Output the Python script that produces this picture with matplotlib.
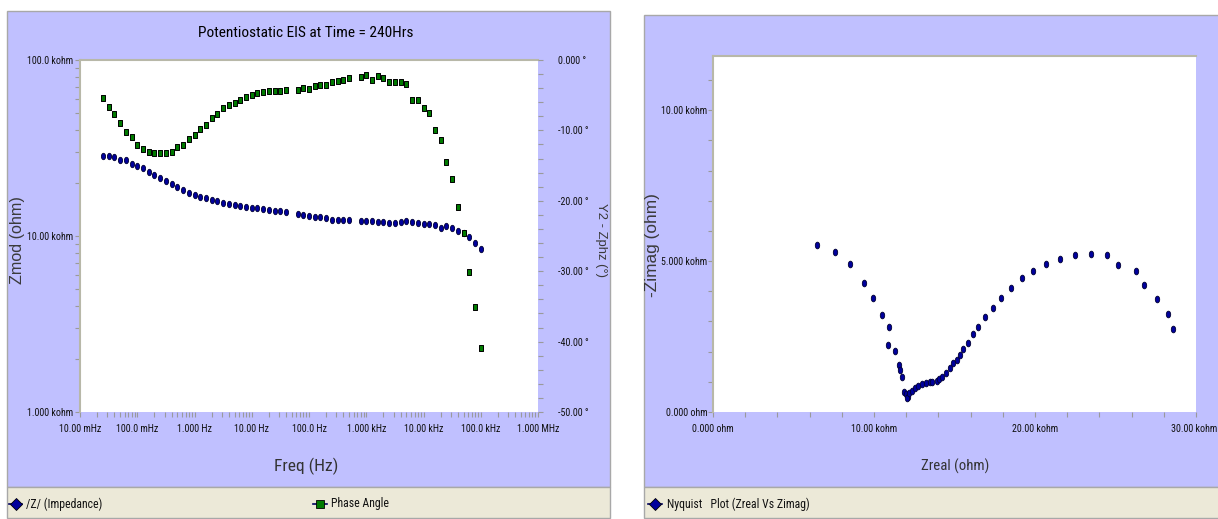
import os
import matplotlib
matplotlib.use('Agg')
import matplotlib.pyplot as plt
from matplotlib import font_manager
from matplotlib.font_manager import FontProperties
from matplotlib.path import Path
from matplotlib.patches import Rectangle
from matplotlib.lines import Line2D
from matplotlib.transforms import ScaledTranslation
from matplotlib.ticker import FixedLocator, LogLocator, NullFormatter, MultipleLocator

# ---- Bode data: frequency (Hz), |Z| (kohm), phase (deg) ----
freq_hz = [0.02512, 0.03162, 0.03981, 0.05012, 0.0631, 0.07943, 0.1, 0.1259, 0.1585, 0.1995,
           0.2512, 0.3162, 0.3981, 0.5012, 0.631, 0.7943, 1.0, 1.259, 1.585, 1.995,
           2.512, 3.162, 3.981, 5.012, 6.31, 7.943, 10.0, 12.59, 15.85, 19.95,
           25.12, 31.62, 39.81, 63.1, 79.43, 100.0, 125.9, 158.5, 199.5, 251.2,
           316.2, 398.1, 501.2, 794.3, 1000.0, 1259.0, 1585.0, 1995.0, 2512.0, 3162.0,
           3981.0, 5012.0, 6310.0, 7943.0, 10000.0, 12589.0, 15849.0, 19953.0, 25119.0, 31623.0,
           39811.0, 50119.0, 63096.0, 79433.0, 100000.0]
zmod_kohm = [28.49, 28.49, 27.99, 27.0, 27.0, 25.6, 25.0, 24.2, 23.1, 22.2,
             21.4, 20.6, 19.7, 19.05, 18.3, 17.6, 17.1, 16.7, 16.4, 16.0,
             15.8, 15.5, 15.2, 15.0, 14.8, 14.7, 14.5, 14.4, 14.2, 14.05,
             13.9, 13.8, 13.6, 13.3, 13.1, 13.05, 12.9, 12.9, 12.6, 12.4,
             12.4, 12.4, 12.4, 12.1, 12.1, 12.1, 11.96, 12.05, 11.9, 11.9,
             11.96, 12.1, 11.96, 11.8, 11.7, 11.7, 11.55, 11.06, 11.4, 11.06,
             10.67, 10.35, 9.91, 9.16, 8.44]
phase_deg = [-5.44, -6.63, -7.67, -8.90, -10.18, -10.98, -12.07, -12.69, -13.07, -13.26,
             -13.26, -13.26, -13.02, -12.41, -12.03, -11.22, -10.61, -9.75, -9.19, -8.29,
             -7.62, -6.87, -6.44, -6.06, -5.63, -5.21, -4.97, -4.73, -4.59, -4.36,
             -4.36, -4.36, -4.21, -4.21, -4.02, -4.07, -3.74, -3.55, -3.60, -3.17,
             -2.98, -2.79, -2.56, -2.37, -2.13, -2.79, -2.32, -2.56, -3.17, -3.17,
             -3.17, -3.36, -5.63, -5.63, -6.87, -7.53, -9.99, -11.41, -14.54, -16.95,
             -20.83, -24.53, -30.07, -35.04, -40.86]

# ---- Nyquist data (kohm) ----
zreal_kohm = [6.48, 7.58, 8.51, 9.38, 9.96, 10.52, 10.93, 10.85, 11.33, 11.55,
              11.61, 11.74, 11.88, 11.99, 12.09, 12.03, 12.19, 12.34, 12.55, 12.75,
              12.96, 13.21, 13.45, 13.62, 13.89, 14.05, 14.20, 14.47, 14.72, 14.93,
              15.14, 15.34, 15.55, 15.86, 16.13, 16.48, 16.89, 17.37, 17.87, 18.49,
              19.17, 19.90, 20.68, 21.55, 22.47, 23.46, 24.45, 25.18, 26.27, 26.79,
              27.60, 28.24, 28.59]
neg_zimag_kohm = [5.53, 5.29, 4.91, 4.29, 3.77, 3.20, 2.82, 2.21, 2.02, 1.56,
                  1.39, 1.17, 0.67, 0.60, 0.51, 0.45, 0.64, 0.71, 0.78, 0.86,
                  0.93, 0.97, 0.98, 1.00, 1.04, 1.10, 1.17, 1.28, 1.45, 1.61,
                  1.72, 1.89, 2.08, 2.30, 2.58, 2.82, 3.16, 3.44, 3.77, 4.10,
                  4.43, 4.68, 4.91, 5.06, 5.19, 5.24, 5.20, 4.88, 4.68, 4.21,
                  3.73, 3.25, 2.74]

freq_ticks = [0.01, 0.1, 1, 10, 100, 1e3, 1e4, 1e5, 1e6]
freq_labels = ['10.00 mHz', '100.0 mHz', '1.000 Hz', '10.00 Hz', '100.0 Hz',
               '1.000 kHz', '10.00 kHz', '100.0 kHz', '1.000 MHz']
zmod_ticks = [1, 10, 100]
zmod_labels = ['1.000 kohm', '10.00 kohm', '100.0 kohm']
phase_ticks = [0, -10, -20, -30, -40, -50]
phase_labels = ['0.000 \u00b0', '-10.00 \u00b0', '-20.00 \u00b0', '-30.00 \u00b0',
                '-40.00 \u00b0', '-50.00 \u00b0']
zreal_ticks = [0, 10, 20, 30]
zreal_labels = ['0.000 ohm', '10.00 kohm', '20.00 kohm', '30.00 kohm']
zimag_ticks = [0, 5, 10]
zimag_labels = ['0.000 ohm', '5.000 kohm', '10.00 kohm']

LAV = '#c0c0ff'
BEIGE = '#ece9d8'
EDGE = '#a8a8a8'
TICK = '#9a9a9a'
TXT = '#111111'

W, H = 1218, 519
fig = plt.figure(figsize=(W / 100, H / 100), dpi=100)
renderer = fig.canvas.get_renderer()


def text_width(fp, text):
    t = fig.text(0, 0, text, fontproperties=fp)
    w = t.get_window_extent(renderer).width
    t.remove()
    return w


# the chart uses a very condensed face: take the narrowest regular sans installed
SANS = {'Liberation Sans Narrow', 'Arial Narrow', 'Liberation Sans', 'DejaVu Sans',
        'Noto Sans', 'Roboto', 'Roboto Condensed', 'Open Sans', 'Open Sans Condensed',
        'Lato', 'Inter'}
best, best_w = None, None
for f in font_manager.fontManager.ttflist:
    if f.name not in SANS or f.style != 'normal' or f.weight not in (400, 'normal', 'regular'):
        continue
    try:
        w = text_width(FontProperties(fname=f.fname, size=10), '100.0 kohm /Z/ Freq (Hz)')
    except Exception:
        continue
    if best_w is None or w < best_w:
        best, best_w = f.fname, w


def find_font(keys):
    for k in keys:
        for f in font_manager.fontManager.ttflist:
            if k.lower() in os.path.basename(f.fname).lower():
                return f.fname
    return None


wide_file = find_font(['LiberationSans-Regular', 'Arial.ttf'])
NARROW = FontProperties(fname=best) if best else FontProperties(family='DejaVu Sans')
WIDE = FontProperties(fname=wide_file) if wide_file else FontProperties(family='DejaVu Sans')


def fitted(fp, text, target_px):
    # font size that gives the text a target width in pixels
    p = fp.copy()
    p.set_size(10)
    p.set_size(10 * target_px / text_width(p, text))
    return p


def box(x0, y0, x1, y1, **kw):
    # rectangle in image pixel coords (y down)
    r = Rectangle((x0 / W, 1 - y1 / H), (x1 - x0) / W, (y1 - y0) / H,
                  transform=fig.transFigure, zorder=-10, **kw)
    fig.add_artist(r)


# panel backgrounds
box(7, 11, 610, 487, facecolor=LAV, edgecolor=EDGE, lw=1)
box(7, 487, 610, 518, facecolor=BEIGE, edgecolor=EDGE, lw=1)
box(644, 15, 1222, 487, facecolor=LAV, edgecolor=EDGE, lw=1)
box(644, 487, 1222, 518, facecolor=BEIGE, edgecolor=EDGE, lw=1)

# marker shapes: tall ellipse and tall rectangle
circ = Path.unit_circle()
ellipse = Path(circ.vertices * [0.66, 1.0], circ.codes)
rect = Path([(-0.62, -1), (0.62, -1), (0.62, 1), (-0.62, 1), (-0.62, -1)],
            [Path.MOVETO, Path.LINETO, Path.LINETO, Path.LINETO, Path.CLOSEPOLY])

tick_fp = fitted(NARROW, '100.0 kohm', 46)


def style_axes(ax):
    for s in ['right', 'bottom']:
        ax.spines[s].set_visible(False)
    for s in ['top', 'left']:
        ax.spines[s].set_color('#b8b8a8')
        ax.spines[s].set_linewidth(1.5)
    ax.tick_params(which='both', colors=TICK, labelcolor=TXT, length=3.5, width=0.8)


def label_font(ax):
    for lab in ax.get_xticklabels() + ax.get_yticklabels():
        lab.set_fontproperties(tick_fp)


# ---- Bode plot ----
ax1 = fig.add_axes([80 / W, 1 - 412 / H, 458 / W, 352 / H])
ax1.set_facecolor('white')
ax1.set_xscale('log')
ax1.set_yscale('log')
ax1.set_xlim(0.01, 1e6)
ax1.set_ylim(1, 100)
style_axes(ax1)
ax1.xaxis.set_major_locator(FixedLocator(freq_ticks))
ax1.set_xticklabels(freq_labels)
ax1.xaxis.set_minor_locator(LogLocator(base=10, subs=range(2, 10), numticks=20))
ax1.xaxis.set_minor_formatter(NullFormatter())
ax1.yaxis.set_major_locator(FixedLocator(zmod_ticks))
ax1.set_yticklabels(zmod_labels)
ax1.yaxis.set_minor_locator(LogLocator(base=10, subs=range(2, 10), numticks=20))
ax1.yaxis.set_minor_formatter(NullFormatter())
ax1.tick_params(axis='x', pad=5)
ax1.tick_params(axis='y', pad=1.5)
label_font(ax1)
ax1.plot(freq_hz, zmod_kohm, ls='none', marker=ellipse, ms=4.6,
         mfc='#00009c', mec='#000033', mew=0.6, zorder=3)

ax2 = ax1.twinx()
ax2.set_ylim(-50, 0)
for s in ax2.spines.values():
    s.set_visible(False)
ax2.yaxis.set_major_locator(FixedLocator(phase_ticks))
ax2.set_yticklabels(phase_labels)
ax2.yaxis.set_minor_locator(MultipleLocator(2))
ax2.tick_params(which='both', colors=TICK, labelcolor=TXT, length=3.5, width=0.8, pad=11)
label_font(ax2)
ax2.plot(freq_hz, phase_deg, ls='none', marker=rect, ms=4.8,
         mfc='#007a00', mec='#000000', mew=0.7, zorder=3)

fig.text(306 / W, 1 - 33 / H, 'Potentiostatic EIS at Time = 240Hrs', ha='center',
         va='center', color='#000000',
         fontproperties=fitted(NARROW, 'Potentiostatic EIS at Time = 240Hrs', 214))
fig.text(306 / W, 1 - 466 / H, 'Freq (Hz)', ha='center', va='center', color='#333333',
         fontproperties=fitted(NARROW, 'Freq (Hz)', 64))
fig.text(18 / W, 1 - 240 / H, 'Zmod (ohm)', ha='center', va='center', rotation=90,
         color='#3a3a3a', fontproperties=fitted(WIDE, 'Zmod (ohm)', 88))
fig.text(601 / W, 1 - 240 / H, 'Y2 - Zphz (\u00b0)', ha='center', va='center',
         rotation=-90, color='#3a3a3a', fontproperties=fitted(WIDE, 'Y2 - Zphz (\u00b0)', 74))

# ---- Nyquist plot ----
ax3 = fig.add_axes([713 / W, 1 - 412 / H, 483 / W, 356 / H])
ax3.set_facecolor('white')
ax3.set_xlim(0, 30)
ax3.set_ylim(0, 11.8)
style_axes(ax3)
ax3.xaxis.set_major_locator(FixedLocator(zreal_ticks))
ax3.set_xticklabels(zreal_labels)
ax3.xaxis.set_minor_locator(MultipleLocator(2))
ax3.yaxis.set_major_locator(FixedLocator(zimag_ticks))
ax3.set_yticklabels(zimag_labels)
ax3.yaxis.set_minor_locator(MultipleLocator(1))
ax3.tick_params(axis='x', pad=5)
ax3.tick_params(axis='y', pad=0.5)
label_font(ax3)
# last x label sits flush with the right edge, as in the original
last = ax3.get_xticklabels()[-1]
last.set_horizontalalignment('right')
last.set_transform(last.get_transform() + ScaledTranslation(0.21, 0, fig.dpi_scale_trans))
ax3.plot(zreal_kohm, neg_zimag_kohm, ls='none', marker=ellipse, ms=4.8,
         mfc='#00009c', mec='#000033', mew=0.6, zorder=3, clip_on=False)

fig.text(955 / W, 1 - 466 / H, 'Zreal (ohm)', ha='center', va='center', color='#333333',
         fontproperties=fitted(NARROW, 'Zreal (ohm)', 68))
fig.text(652 / W, 1 - 245 / H, '-Zimag (ohm)', ha='center', va='center', rotation=90,
         color='#3a3a3a', fontproperties=fitted(WIDE, '-Zimag (ohm)', 104))

# ---- legend strips ----
ly = 1 - 504 / H
leg_fp = fitted(NARROW, '/Z/ (Impedance)', 76)
for x0, x1, xm, col, mk in [(9, 22, 15.5, '#00009c', 'D'), (313, 327, 320, '#007a00', 's'),
                            (648, 662, 655, '#00009c', 'D')]:
    fig.add_artist(Line2D([x0 / W, x1 / W], [ly, ly], color='#000060', lw=1.2,
                          transform=fig.transFigure))
    fig.add_artist(Line2D([xm / W], [ly], marker=mk, ms=6, mfc=col, mec='#000000',
                          mew=0.6, transform=fig.transFigure))
fig.text(26 / W, ly, '/Z/ (Impedance)', va='center', color=TXT, fontproperties=leg_fp)
fig.text(331 / W, ly, 'Phase Angle', va='center', color=TXT, fontproperties=leg_fp)
fig.text(667 / W, ly, 'Nyquist   Plot (Zreal Vs Zimag)', va='center', color=TXT,
         fontproperties=leg_fp)

fig.savefig('out.png', dpi=100, facecolor='white')
